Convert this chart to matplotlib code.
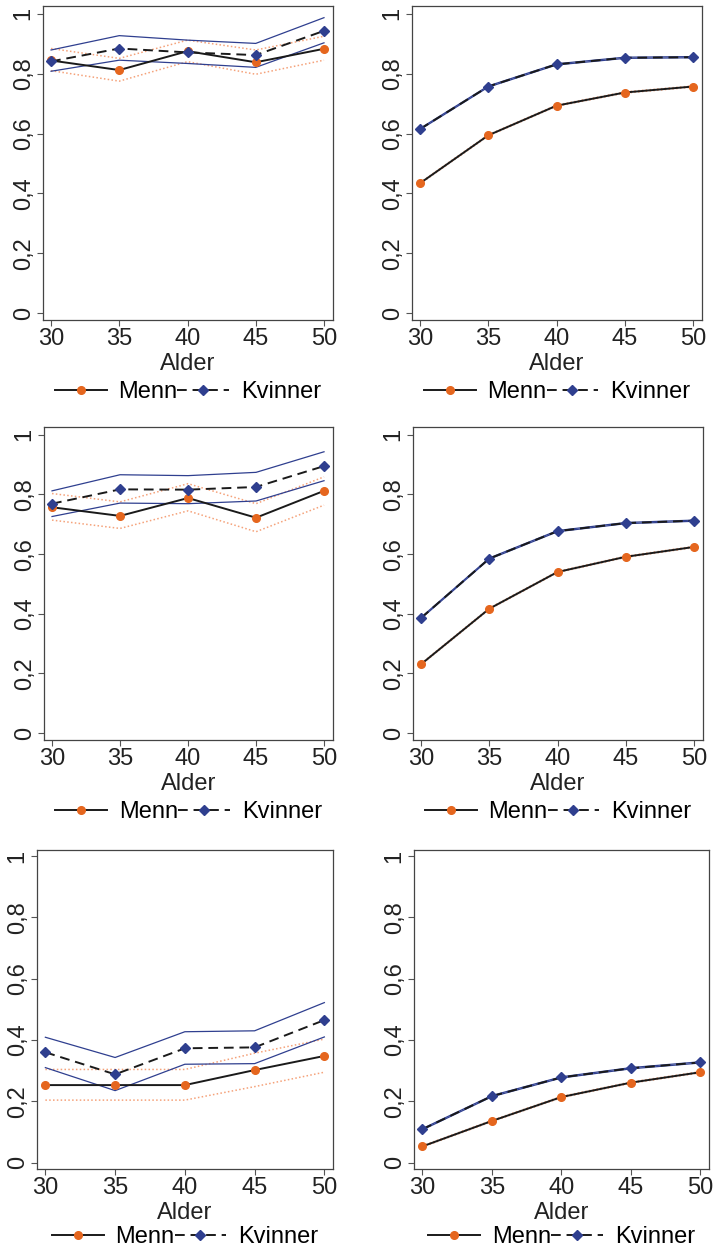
import matplotlib
matplotlib.use('Agg')
import matplotlib.pyplot as plt
from matplotlib.ticker import FixedLocator
from matplotlib.lines import Line2D

plt.rcParams['font.family'] = ['Liberation Sans', 'DejaVu Sans']

alder = [30, 35, 40, 45, 50]
yticks = [0, 0.2, 0.4, 0.6, 0.8, 1]
ytick_labels = ['0', '0,2', '0,4', '0,6', '0,8', '1']

# venstre kolonne: estimat med konfidensintervall
p1_menn = [0.844, 0.812, 0.875, 0.838, 0.883]
p1_menn_lo = [0.810, 0.775, 0.840, 0.798, 0.845]
p1_menn_hi = [0.884, 0.851, 0.912, 0.879, 0.925]
p1_kv = [0.841, 0.884, 0.871, 0.862, 0.943]
p1_kv_lo = [0.808, 0.845, 0.834, 0.821, 0.903]
p1_kv_hi = [0.879, 0.927, 0.912, 0.901, 0.987]

p3_menn = [0.757, 0.728, 0.788, 0.722, 0.812]
p3_menn_lo = [0.714, 0.686, 0.745, 0.675, 0.764]
p3_menn_hi = [0.803, 0.775, 0.836, 0.769, 0.859]
p3_kv = [0.769, 0.817, 0.816, 0.825, 0.895]
p3_kv_lo = [0.726, 0.771, 0.769, 0.778, 0.846]
p3_kv_hi = [0.812, 0.866, 0.863, 0.874, 0.943]

p5_menn = [0.253, 0.253, 0.253, 0.302, 0.348]
p5_menn_lo = [0.204, 0.204, 0.204, 0.248, 0.295]
p5_menn_hi = [0.304, 0.304, 0.304, 0.357, 0.403]
p5_kv = [0.360, 0.288, 0.373, 0.376, 0.465]
p5_kv_lo = [0.310, 0.235, 0.321, 0.323, 0.410]
p5_kv_hi = [0.409, 0.343, 0.427, 0.430, 0.522]

# hoyre kolonne: smale intervall
p2_menn = [0.434, 0.594, 0.693, 0.737, 0.757]
p2_menn_lo = [0.432, 0.592, 0.691, 0.735, 0.755]
p2_menn_hi = [0.436, 0.596, 0.695, 0.739, 0.759]
p2_kv = [0.615, 0.757, 0.831, 0.853, 0.855]
p2_kv_lo = [0.613, 0.755, 0.829, 0.851, 0.853]
p2_kv_hi = [0.617, 0.759, 0.833, 0.855, 0.857]

p4_menn = [0.231, 0.417, 0.540, 0.591, 0.624]
p4_menn_lo = [0.229, 0.415, 0.538, 0.589, 0.622]
p4_menn_hi = [0.233, 0.419, 0.542, 0.593, 0.626]
p4_kv = [0.386, 0.585, 0.677, 0.704, 0.712]
p4_kv_lo = [0.384, 0.583, 0.675, 0.702, 0.710]
p4_kv_hi = [0.388, 0.587, 0.679, 0.706, 0.714]

p6_menn = [0.053, 0.136, 0.214, 0.261, 0.295]
p6_menn_lo = [0.051, 0.134, 0.212, 0.259, 0.293]
p6_menn_hi = [0.055, 0.138, 0.216, 0.263, 0.297]
p6_kv = [0.109, 0.217, 0.278, 0.308, 0.327]
p6_kv_lo = [0.107, 0.215, 0.276, 0.306, 0.325]
p6_kv_hi = [0.111, 0.219, 0.280, 0.310, 0.329]

ORANGE = '#E5661E'
ORANGE_CI = '#F5A27A'
BLUE = '#2F3F8F'
FS = 17

W, H = 715, 1249
fig = plt.figure(figsize=(W / 100, H / 100), dpi=100)

# (left, top, right, bottom) i piksler
boxes = [
    (43, 6, 333, 320), (412, 6, 702, 320),
    (44, 427, 333, 740), (413, 427, 703, 740),
    (37, 850, 333, 1169), (414, 850, 709, 1169),
]
panels = [
    (p1_menn, p1_menn_lo, p1_menn_hi, p1_kv, p1_kv_lo, p1_kv_hi),
    (p2_menn, p2_menn_lo, p2_menn_hi, p2_kv, p2_kv_lo, p2_kv_hi),
    (p3_menn, p3_menn_lo, p3_menn_hi, p3_kv, p3_kv_lo, p3_kv_hi),
    (p4_menn, p4_menn_lo, p4_menn_hi, p4_kv, p4_kv_lo, p4_kv_hi),
    (p5_menn, p5_menn_lo, p5_menn_hi, p5_kv, p5_kv_lo, p5_kv_hi),
    (p6_menn, p6_menn_lo, p6_menn_hi, p6_kv, p6_kv_lo, p6_kv_hi),
]

for i, (box, data) in enumerate(zip(boxes, panels)):
    l, t, r, b = box
    ax = fig.add_axes([l / W, 1 - b / H, (r - l) / W, (b - t) / H])
    menn, menn_lo, menn_hi, kv, kv_lo, kv_hi = data

    ax.plot(alder, menn_lo, color=ORANGE_CI, lw=1.1, ls=(0, (1, 1.5)), zorder=2)
    ax.plot(alder, menn_hi, color=ORANGE_CI, lw=1.1, ls=(0, (1, 1.5)), zorder=2)
    ax.plot(alder, kv_lo, color=BLUE, lw=0.9, zorder=2)
    ax.plot(alder, kv_hi, color=BLUE, lw=0.9, zorder=2)
    ax.plot(alder, menn, color='#1a1a1a', lw=1.4, marker='o', ms=5.5,
            mfc=ORANGE, mec=ORANGE, zorder=3)
    ax.plot(alder, kv, color='#1a1a1a', lw=1.4, ls=(0, (5, 3)), marker='D', ms=5,
            mfc=BLUE, mec=BLUE, zorder=4)

    if i >= 4:
        ax.set_ylim(-0.0206, 1.0196)
        ax.set_xlim(29.4, 50.62)
        leg_y = -0.18
    else:
        ax.set_ylim(-0.023, 1.026)
        ax.set_xlim(29.41, 50.66)
        leg_y = -0.195

    ax.xaxis.set_major_locator(FixedLocator(alder))
    ax.set_xticklabels([str(a) for a in alder], fontsize=FS, color='#222222')
    ax.yaxis.set_major_locator(FixedLocator(yticks))
    ax.set_yticklabels(ytick_labels, fontsize=FS, rotation=90, va='center',
                       color='#222222')
    ax.tick_params(direction='out', length=4, width=0.8, color='#555555', pad=2)
    for s in ax.spines.values():
        s.set_color('#444444')
        s.set_linewidth(0.9)
    ax.set_xlabel('Alder', fontsize=FS, color='#222222', labelpad=2)

    handles = [
        Line2D([], [], color='#1a1a1a', lw=1.4, marker='o', ms=5.5,
               mfc=ORANGE, mec=ORANGE),
        Line2D([], [], color='#1a1a1a', lw=1.4, ls=(0, (5, 3)), marker='D', ms=5,
               mfc=BLUE, mec=BLUE),
    ]
    ax.legend(handles, ['Menn', 'Kvinner'], loc='upper center',
              bbox_to_anchor=(0.5, leg_y), ncol=2, frameon=False, fontsize=FS,
              handlelength=2.2, handletextpad=0.5, columnspacing=0.0,
              borderaxespad=0, borderpad=0)

fig.savefig('out.png', dpi=100)
